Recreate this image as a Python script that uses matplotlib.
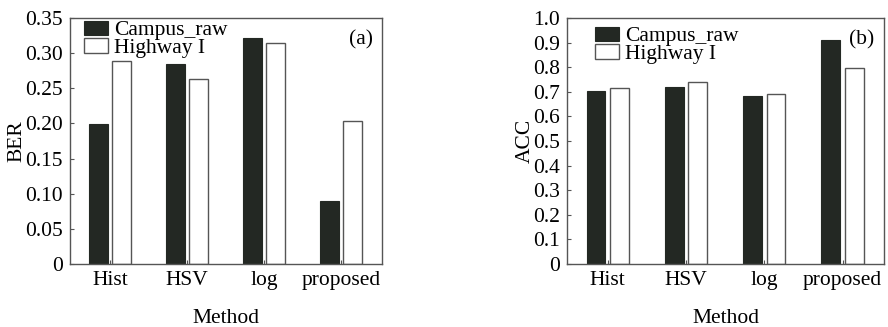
import matplotlib
matplotlib.use("Agg")
import matplotlib.pyplot as plt
import numpy as np

methods = ["Hist", "HSV", "log", "proposed"]
series_names = ["Campus_raw", "Highway I"]
ber_campus = [0.199, 0.284, 0.322, 0.089]
ber_highway = [0.289, 0.263, 0.315, 0.204]
acc_campus = [0.703, 0.718, 0.683, 0.910]
acc_highway = [0.717, 0.740, 0.692, 0.798]
ber_ticks = [0, 0.05, 0.10, 0.15, 0.20, 0.25, 0.30, 0.35]
ber_ticklabels = ["0", "0.05", "0.10", "0.15", "0.20", "0.25", "0.30", "0.35"]
acc_ticks = [0, 0.1, 0.2, 0.3, 0.4, 0.5, 0.6, 0.7, 0.8, 0.9, 1.0]
acc_ticklabels = ["0", "0.1", "0.2", "0.3", "0.4", "0.5", "0.6", "0.7", "0.8", "0.9", "1.0"]

plt.rcParams["font.family"] = ["Liberation Serif", "DejaVu Serif"]
fs = 15.5

dark = "#232823"
edge = "#555555"


def draw_panel(ax, campus, highway, ticks, ticklabels, ylabel, tag, ymax, leg_pos):
    x = np.arange(len(methods))
    w = 0.24
    ax.bar(x - 0.15, campus, w, color=dark, edgecolor=dark, linewidth=0.8,
           label=series_names[0])
    ax.bar(x + 0.15, highway, w, color="white", edgecolor=edge, linewidth=1.0,
           label=series_names[1])
    ax.set_xlim(-0.52, 3.53)
    ax.set_ylim(0, ymax)
    ax.set_xticks(x)
    ax.set_xticklabels(methods, fontsize=fs)
    ax.set_yticks(ticks)
    ax.set_yticklabels(ticklabels, fontsize=fs)
    ax.tick_params(direction="in", length=3, width=0.8, color=edge, pad=5)
    for s in ax.spines.values():
        s.set_color(edge)
        s.set_linewidth(1.0)
    ax.set_xlabel("Method", fontsize=fs, labelpad=14)
    ax.set_ylabel(ylabel, fontsize=fs, labelpad=-1)
    ax.text(0.97, 0.91, tag, transform=ax.transAxes, ha="right", va="center",
            fontsize=fs)
    ax.legend(loc="upper left", frameon=False, fontsize=fs, handlelength=1.1,
              handleheight=0.65, handletextpad=0.3, labelspacing=-0.1,
              borderaxespad=0.0, bbox_to_anchor=leg_pos)


fig = plt.figure(figsize=(8.88, 3.27), dpi=100)
ax1 = fig.add_axes([0.0788, 0.1927, 0.3514, 0.752])
ax2 = fig.add_axes([0.6385, 0.1927, 0.357, 0.752])

draw_panel(ax1, ber_campus, ber_highway, ber_ticks, ber_ticklabels, "BER", "(a)", 0.35,
           (0.017, 1.025))
draw_panel(ax2, acc_campus, acc_highway, acc_ticks, acc_ticklabels, "ACC", "(b)", 1.0,
           (0.061, 1.0))

fig.savefig("out.png", dpi=100)
